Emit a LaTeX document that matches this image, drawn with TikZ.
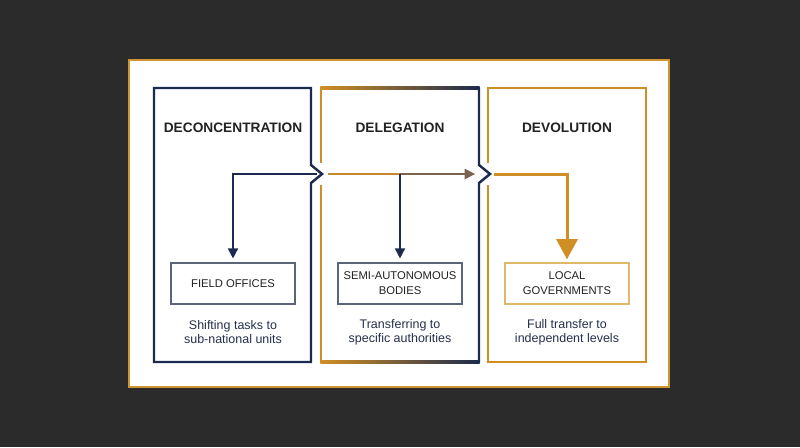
\documentclass[tikz,border=0pt]{standalone}
\usepackage{fontspec}
\setmainfont{Liberation Sans}
\usetikzlibrary{arrows.meta,shadows}

\definecolor{navy}{HTML}{1B2A4E}
\definecolor{gold}{HTML}{D08F24}
\definecolor{framegold}{HTML}{CF9533}
\definecolor{bg}{HTML}{2B2B2B}
\definecolor{ink}{HTML}{222222}
\definecolor{bodyink}{HTML}{25304A}
\definecolor{brownarrow}{HTML}{7A6450}
\definecolor{boxline}{HTML}{5C6478}
\definecolor{lightgold}{HTML}{E0B86A}

\begin{document}
\begin{tikzpicture}[x=0.02cm,y=-0.02cm,
    title/.style={font=\bfseries\fontsize{7.8}{9}\selectfont,text=ink},
    unitbox/.style={draw=boxline,line width=0.6pt,fill=white,minimum width=2.48cm,minimum height=0.82cm,
        align=center,inner sep=1pt,font=\fontsize{6.4}{8.5}\selectfont,text=ink,
        drop shadow={opacity=0.12,shadow xshift=0.4pt,shadow yshift=-0.8pt}},
    desc/.style={align=center,font=\fontsize{7.1}{8}\selectfont,text=bodyink},
    panel/.style={line width=1.4pt,line join=miter},
    navyarrow/.style={navy,line width=0.85pt,-{Triangle[width=5.7pt,length=5.7pt]}}
    ]

\fill[bg] (0,0) rectangle (800,447);
\draw[framegold,fill=white,line width=1.5pt] (129,60) rectangle (669,387);

\draw[panel,navy] (322,174) -- (311,165) -- (311,88) -- (154,88) -- (154,362) -- (311,362) -- (311,183) -- cycle;
\draw[panel,gold] (321,88) -- (321,163);
\draw[panel,gold] (321,185) -- (321,362);
\shade[left color=gold,right color=navy] (320.3,86.8) rectangle (479.7,89.2);
\shade[left color=gold,right color=navy] (320.3,360.8) rectangle (479.7,363.2);
\draw[panel,navy] (479,88) -- (479,165) -- (490,174) -- (479,183) -- (479,362);
\draw[panel,gold] (488,163) -- (488,88) -- (646,88) -- (646,362) -- (488,362) -- (488,185);

\coordinate (k1) at (323,174);
\coordinate (j) at (400,174);
\coordinate (k2) at (490,174);

\node[title] (tdec) at (233,128) {DECONCENTRATION};
\node[title] (tdel) at (400,128) {DELEGATION};
\node[title] (tdev) at (567,128) {DEVOLUTION};

\node[unitbox] (field) at (233,283.5) {FIELD OFFICES};
\node[unitbox] (semi) at (400,283.5) {SEMI-AUTONOMOUS\\BODIES};
\node[unitbox,draw=lightgold] (local) at (567,283.5) {LOCAL\\GOVERNMENTS};

\node[desc] (ddec) at (233,332) {Shifting tasks to\\sub-national units};
\node[desc] (ddel) at (400,332) {Transferring to\\specific authorities};
\node[desc] (ddev) at (567,332) {Full transfer to\\independent levels};

\draw[navyarrow,shorten >=2.3pt] ([xshift=-0.12cm]k1) -| (field.north);
\draw[gold!85!brownarrow,line width=0.85pt,shorten <=3pt] (k1) -- (j);
\draw[brownarrow,line width=0.85pt,shorten >=8.5pt,-{Triangle[width=6pt,length=6pt]}] (j) -- (k2);
\draw[navyarrow,shorten >=2.3pt] (j) -- (semi.north);
\draw[gold,line width=1.7pt,shorten <=2pt,shorten >=1.8pt,-{Triangle[width=12pt,length=11.5pt]}] (k2) -| (local.north);

\end{tikzpicture}
\end{document}
